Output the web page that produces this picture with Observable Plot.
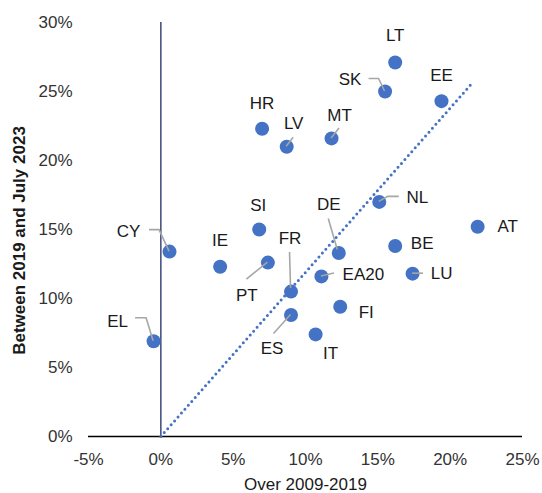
<!DOCTYPE html>
<html>
<head>
<meta charset="utf-8">
<script src="https://cdn.jsdelivr.net/npm/d3@7"></script>
<script src="https://cdn.jsdelivr.net/npm/@observablehq/plot@0.6"></script>
<style>
  html, body { margin: 0; padding: 0; background: #fff; }
</style>
</head>
<body>
<div id="chart"></div>
<script>
// Country codes and values (percent)
const countries = ["LT","SK","EE","HR","LV","MT","NL","AT","SI","CY","IE","PT","EL","DE","FR","BE","EA20","LU","FI","ES","IT"];
const over2009_2019 = [16.2,15.5,19.4,7.0,8.7,11.8,15.1,21.9,6.8,0.6,4.1,7.4,-0.5,12.3,9.0,16.2,11.1,17.4,12.4,9.0,10.7];
const since2019 = [27.1,25.0,24.3,22.3,21.0,21.6,17.0,15.2,15.0,13.4,12.3,12.6,6.9,13.3,10.5,13.8,11.6,11.8,9.4,8.8,7.4];

// Dotted reference line endpoints
const refLineX = [0, 21.6];
const refLineY = [0, 25.7];

// Axis ticks
const xTicks = [-5, 0, 5, 10, 15, 20, 25];
const yTicks = [0, 5, 10, 15, 20, 25, 30];
const xTitle = "Over 2009-2019";
const yTitle = "Between 2019 and July 2023";

// Label placement (pixel offsets from the dot) and leader lines
const labelOffsets = [
  [0,-27],[-35,-12],[0,-26],[0,-25],[7,-23],[8,-23],[38,-4],[30,0],[-1,-24],[-41,-20],
  [0,-26],[-21,33],[-36,-20],[-10,-48],[-1,-53],[27,-3],[42,-2],[29,0],[26,6],[-19,33],[15,19]
];
const leaders = [
  null, [[0,0],[-6,-12.5],[-16,-12.5]], null, null, [[0,0],[7,-9]], [[0,0],[8,-10]],
  [[0,0],[9,-5],[20,-5]], null, null, [[0,0],[-10,-21.5],[-20,-21.5]], null,
  [[0,0],[-21,17]], [[0,0],[-7,-23],[-18,-23]], [[-1,-3],[-10,-34]], [[0,-3],[-1,-39]],
  null, [[0,0],[13,-3]], [[0,0],[11,0]], null, [[0,0],[-17,19]], null
];

const idx = countries.map((_, i) => i);
const pct = d => d + "%";
const font = "'Liberation Sans', Arial, sans-serif";

const labelMarks = idx.map(i => Plot.text([i], {
  x: j => over2009_2019[j], y: j => since2019[j], text: j => countries[j],
  dx: labelOffsets[i][0], dy: labelOffsets[i][1],
  fill: "#1a1a1a", fontSize: 17, textAnchor: "middle", lineAnchor: "middle"
}));

const chart = Plot.plot({
  width: 542,
  height: 493,
  marginLeft: 88,
  marginRight: 20,
  marginTop: 22,
  marginBottom: 57,
  style: { fontFamily: font, fontSize: "17px", color: "#333", background: "#fff" },
  x: { domain: [-5, 25], ticks: xTicks, tickFormat: pct, tickSize: 0, tickPadding: 16, label: null },
  y: { domain: [0, 30], ticks: yTicks, tickFormat: pct, tickSize: 0, tickPadding: 16, label: null },
  marks: [
    Plot.ruleX([0], { y1: 0, y2: 30, stroke: "#4a5280", strokeWidth: 1.6 }),
    Plot.ruleY([0], { x1: -5, x2: 25, stroke: "#000", strokeWidth: 1.3 }),
    Plot.line(refLineX.map((x, i) => [x, refLineY[i]]), {
      x: d => d[0], y: d => d[1], stroke: "#4472C4", strokeWidth: 3,
      strokeDasharray: "0,5.2", strokeLinecap: "round"
    }),
    Plot.dot(idx, { x: i => over2009_2019[i], y: i => since2019[i], r: 7, fill: "#4472C4", stroke: "none" }),
    ...labelMarks,
    Plot.text([xTitle], { frameAnchor: "bottom", dy: 48, fontSize: 17, fill: "#1a1a1a", textAnchor: "middle", lineAnchor: "middle" }),
    Plot.text([yTitle], { frameAnchor: "left", dx: -69, dy: 11, rotate: -90, fontSize: 17, fontWeight: "bold", fill: "#1a1a1a", textAnchor: "middle", lineAnchor: "middle" })
  ]
});

document.getElementById("chart").appendChild(chart);

// Leader lines, positioned through the chart's own scales
const sx = chart.scale("x"), sy = chart.scale("y");
const g = d3.select(chart).append("g").attr("fill", "none").attr("stroke", "#a6a6a6").attr("stroke-width", 1.6);
idx.forEach(i => {
  if (!leaders[i]) return;
  const px = sx.apply(over2009_2019[i]), py = sy.apply(since2019[i]);
  g.append("path").attr("d", d3.line()(leaders[i].map(([dx, dy]) => [px + dx, py + dy])));
});
</script>
</body>
</html>
